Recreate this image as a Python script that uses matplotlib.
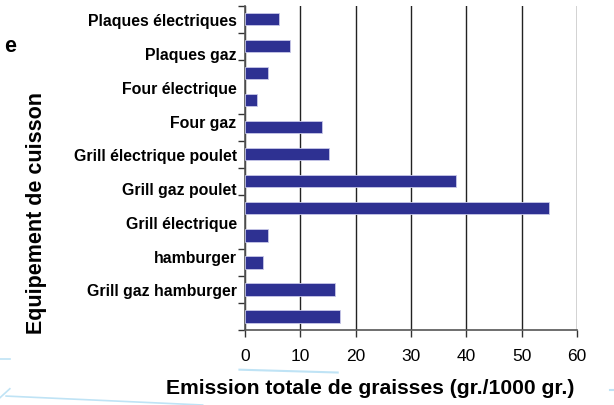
import matplotlib.pyplot as plt
import numpy as np
from matplotlib.lines import Line2D

plt.rcParams['font.family'] = ['Liberation Sans', 'DejaVu Sans']

# valeurs des barres, de haut en bas
emissions = [6.1, 8.1, 4.1, 2.2, 14.0, 15.2, 38.1, 55.0, 4.1, 3.3, 16.3, 17.1]

# étiquettes de l'axe vertical
labels = ['Plaques électriques', 'Plaques gaz', 'Four électrique', 'Four gaz',
          'Grill électrique poulet', 'Grill gaz poulet', 'Grill électrique',
          'hamburger', 'Grill gaz hamburger']

xticks = [0, 10, 20, 30, 40, 50, 60]

bar_color = '#2E3192'

fig = plt.figure(figsize=(6.14, 4.06), dpi=100)
ax = fig.add_axes([0.399, 0.1847, 0.5407, 0.7988])

pos = np.arange(len(emissions))
ax.barh(pos, emissions, height=0.45, color=bar_color, edgecolor='#c8c8e8',
        linewidth=0.6, zorder=3)

ax.set_xlim(0, 60)
ax.set_ylim(len(emissions) - 0.5, -0.5)
ax.set_xticks(xticks)
ax.set_xticklabels([str(t) for t in xticks], fontsize=12.5)

ax.set_yticks(np.linspace(0, len(emissions) - 2, len(labels)))
ax.set_yticklabels(labels, fontsize=11.4, fontweight='bold')
ax.set_yticks(np.arange(-0.5, len(emissions)), minor=True)
ax.tick_params(axis='y', which='major', length=0, pad=6)
ax.tick_params(axis='y', which='minor', length=5, width=1, color='#333333')
ax.tick_params(axis='x', length=5, width=1, color='#333333', pad=8)

ax.grid(axis='x', color='#222222', linewidth=1, zorder=1)
ax.spines['top'].set_visible(False)
ax.spines['right'].set_visible(False)
for s in ['left', 'bottom']:
    ax.spines[s].set_color('#555555')
    ax.spines[s].set_linewidth(1.2)

fig.text(0.6035, 0.044, 'Emission totale de graisses (gr./1000 gr.)',
         ha='center', va='center', fontsize=15.2, fontweight='bold')
fig.text(0.06, 0.475, 'Equipement de cuisson', rotation=90,
         ha='center', va='center', fontsize=15.5, fontweight='bold')
fig.text(0.006, 0.885, 'e', ha='left', va='center', fontsize=15.5,
         fontweight='bold')

# traits décoratifs bleu clair
light = '#bfe3f5'
fig.add_artist(Line2D([0.0, 0.016], [0.113, 0.113], color=light, lw=1.2))
fig.add_artist(Line2D([0.0, 0.016], [0.018, 0.04], color=light, lw=1.2))
fig.add_artist(Line2D([0.01, 0.33], [0.022, 0.0], color=light, lw=1.2))
fig.add_artist(Line2D([0.39, 0.55], [0.087, 0.08], color=light, lw=1.5))
fig.add_artist(Line2D([0.993, 1.0], [0.037, 0.037], color=light, lw=1.5))

fig.savefig('out.png', dpi=100)
